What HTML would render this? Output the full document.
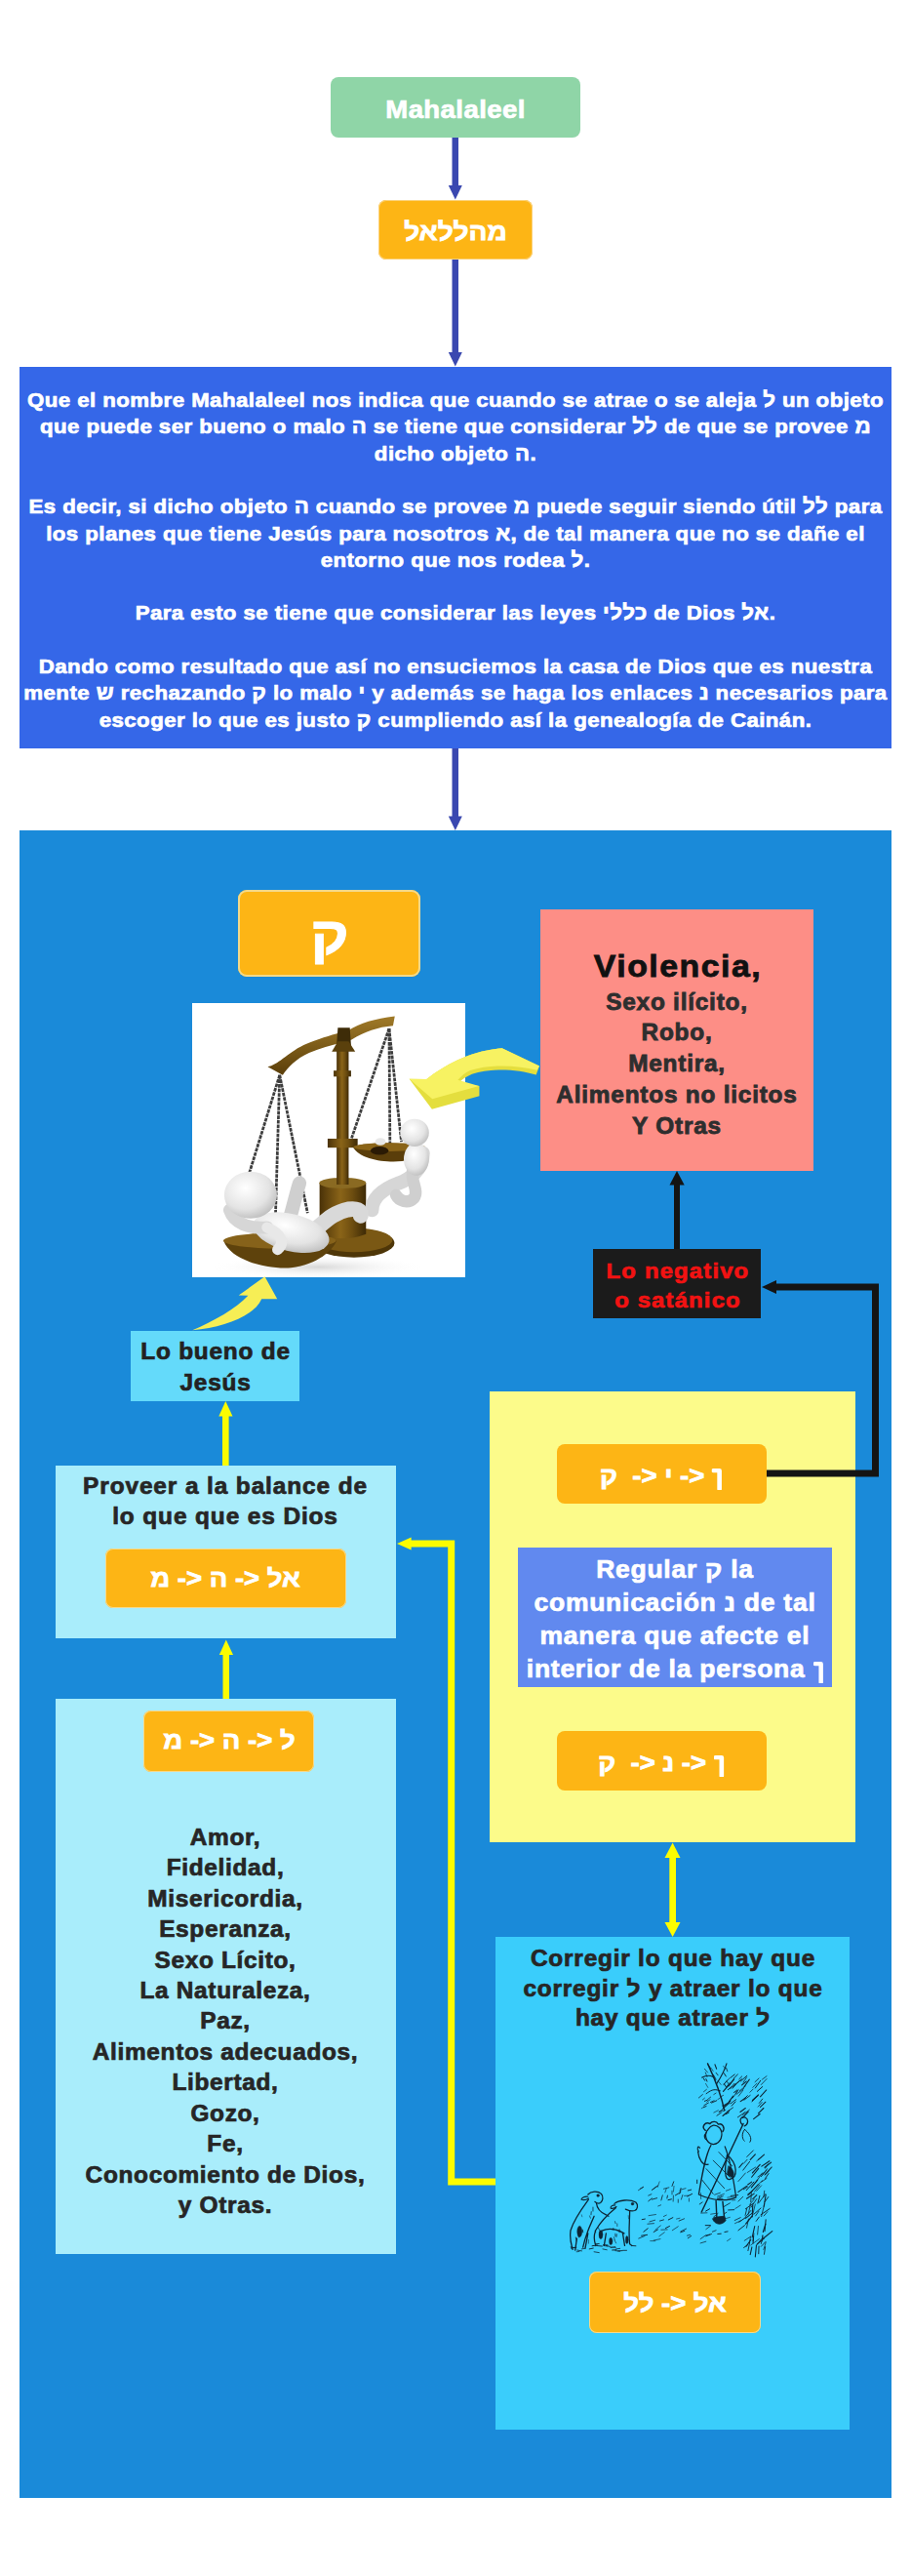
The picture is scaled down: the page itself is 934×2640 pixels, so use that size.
<!DOCTYPE html>
<html><head><meta charset="utf-8">
<style>
html,body{margin:0;padding:0;background:#ffffff;}
body{width:934px;height:2640px;position:relative;overflow:hidden;font-family:"Liberation Sans", sans-serif;}
div{white-space:nowrap;}
</style></head><body>
<div style="position:absolute;left:339px;top:79px;width:256px;height:62px;background:#8fd5a7;border-radius:8px;"></div><div style="position:absolute;left:-32.81px;top:97.39px;width:1000px;text-align:center;font-size:26px;line-height:30px;color:#ffffff;letter-spacing:0.379px;font-weight:bold;transform:scaleX(1.06);-webkit-text-stroke:0.7px #ffffff;">Mahalaleel</div><div style="position:absolute;left:388px;top:205px;width:158px;height:61px;background:#fdb515;border-radius:8px;box-shadow:inset 0 0 0 1px #fbd27a;"></div><div style="position:absolute;left:-33.50px;top:221.66px;width:1000px;text-align:center;font-size:25.5px;line-height:30px;color:#ffffff;letter-spacing:0px;font-weight:bold;transform:scaleX(1.1);-webkit-text-stroke:0.8px #ffffff;">מהללאל</div><div style="position:absolute;left:20px;top:376px;width:894px;height:391px;background:#3567e8;border-radius:0px;"></div><div style="position:absolute;left:-32.79px;top:396.07px;width:1000px;text-align:center;font-size:21px;line-height:27.3px;color:#ffffff;letter-spacing:0.411px;font-weight:bold;transform:scaleX(1.06);-webkit-text-stroke:0.7px #ffffff;">Que el nombre Mahalaleel nos indica que cuando se atrae o se aleja ל un objeto<br>que puede ser bueno o malo ה se tiene que considerar לל de que se provee מ<br>dicho objeto ה.<br>&nbsp;<br>Es decir, si dicho objeto ה cuando se provee מ puede seguir siendo útil לל para<br>los planes que tiene Jesús para nosotros א, de tal manera que no se dañe el<br>entorno que nos rodea ל.<br>&nbsp;<br>Para esto se tiene que considerar las leyes כללי de Dios אל.<br>&nbsp;<br>Dando como resultado que así no ensuciemos la casa de Dios que es nuestra<br>mente ש rechazando ק lo malo י y además se haga los enlaces נ necesarios para<br>escoger lo que es justo ק cumpliendo así la genealogía de Cainán.</div><div style="position:absolute;left:20px;top:851px;width:894px;height:1709px;background:#1a8ad9;border-radius:0px;"></div><div style="position:absolute;left:244px;top:912px;width:187px;height:89px;background:#fdb515;border-radius:9px;box-shadow:inset 0 0 0 2px #f3d98a;"></div><div style="position:absolute;left:-162.00px;top:929.44px;width:1000px;text-align:center;font-size:55px;line-height:60px;color:#ffffff;letter-spacing:0.0px;font-weight:bold;transform:scaleX(1.1);-webkit-text-stroke:0.8px #ffffff;">ק</div><div style="position:absolute;left:554px;top:932px;width:280px;height:268px;background:#fd8e86;border-radius:0px;"></div><div style="position:absolute;left:194.69px;top:972.31px;width:1000px;text-align:center;font-size:32px;line-height:36px;color:#111111;letter-spacing:1.376px;font-weight:bold;transform:scaleX(1.06);-webkit-text-stroke:0.8px #111111;">Violencia,</div><div style="position:absolute;left:194.37px;top:1011.56px;width:1000px;text-align:center;font-size:23px;line-height:31.75px;color:#2e2e2e;letter-spacing:0.738px;font-weight:bold;transform:scaleX(1.06);-webkit-text-stroke:0.8px #2e2e2e;">Sexo ilícito,<br>Robo,<br>Mentira,<br>Alimentos no licitos<br>Y Otras</div><div style="position:absolute;left:608px;top:1280px;width:172px;height:71px;background:#1b1b1b;border-radius:0px;"></div><div style="position:absolute;left:194.55px;top:1288.05px;width:1000px;text-align:center;font-size:22.5px;line-height:29.9px;color:#f21212;letter-spacing:1.108px;font-weight:bold;transform:scaleX(1.06);-webkit-text-stroke:0.7px #f21212;">Lo negativo<br>o satánico</div><div style="position:absolute;left:134px;top:1364px;width:173px;height:72px;background:#64dafa;border-radius:0px;"></div><div style="position:absolute;left:-278.63px;top:1370.33px;width:1000px;text-align:center;font-size:23px;line-height:31.4px;color:#222222;letter-spacing:0.745px;font-weight:bold;transform:scaleX(1.06);-webkit-text-stroke:0.7px #222222;">Lo bueno de<br>Jesús</div><div style="position:absolute;left:57px;top:1502px;width:349px;height:177px;background:#a9edfb;border-radius:0px;"></div><div style="position:absolute;left:-268.57px;top:1507.68px;width:1000px;text-align:center;font-size:23px;line-height:31.5px;color:#262626;letter-spacing:0.853px;font-weight:bold;transform:scaleX(1.06);-webkit-text-stroke:0.7px #262626;">Proveer a la balance de<br>lo que que es Dios</div><div style="position:absolute;left:108px;top:1587px;width:247px;height:61px;background:#fdb515;border-radius:8px;box-shadow:inset 0 0 0 1px #f6d98c;"></div><div style="position:absolute;left:-269.00px;top:1602.34px;width:1000px;text-align:center;font-size:25px;line-height:30px;color:#ffffff;letter-spacing:0px;font-weight:bold;transform:scaleX(1.1);-webkit-text-stroke:0.8px #ffffff;"><bdo dir="ltr">מ -&gt; ה -&gt; לא</bdo></div><div style="position:absolute;left:57px;top:1741px;width:349px;height:569px;background:#a9edfb;border-radius:0px;"></div><div style="position:absolute;left:147px;top:1753px;width:175px;height:63px;background:#fdb515;border-radius:8px;box-shadow:inset 0 0 0 1px #f6d98c;"></div><div style="position:absolute;left:-265.50px;top:1768.34px;width:1000px;text-align:center;font-size:25px;line-height:30px;color:#ffffff;letter-spacing:0px;font-weight:bold;transform:scaleX(1.1);-webkit-text-stroke:0.8px #ffffff;"><bdo dir="ltr">מ -&gt; ה -&gt; ל</bdo></div><div style="position:absolute;left:-268.67px;top:1867.59px;width:1000px;text-align:center;font-size:23px;line-height:31.48px;color:#262626;letter-spacing:0.653px;font-weight:bold;transform:scaleX(1.06);-webkit-text-stroke:0.7px #262626;">Amor,<br>Fidelidad,<br>Misericordia,<br>Esperanza,<br>Sexo Lícito,<br>La Naturaleza,<br>Paz,<br>Alimentos adecuados,<br>Libertad,<br>Gozo,<br>Fe,<br>Conocomiento de Dios,<br>y Otras.</div><div style="position:absolute;left:502px;top:1426px;width:375px;height:462px;background:#fcfb8a;border-radius:0px;"></div><div style="position:absolute;left:571px;top:1480px;width:215px;height:61px;background:#fdb515;border-radius:8px;"></div><div style="position:absolute;left:178.00px;top:1497.34px;width:1000px;text-align:center;font-size:25px;line-height:30px;color:#ffffff;letter-spacing:0px;font-weight:bold;transform:scaleX(1.1);-webkit-text-stroke:0.8px #ffffff;"><bdo dir="ltr">ק&nbsp; -&gt; י -&gt;&nbsp;<svg width="10" height="22" viewBox="0 0 10 22" style="vertical-align:-6px"><path d="M1.5,2.2 H7.2 V21" stroke="#fff" stroke-width="4.2" fill="none" stroke-linecap="round" stroke-linejoin="round"/></svg></bdo></div><div style="position:absolute;left:531px;top:1586px;width:322px;height:143px;background:#6189ef;border-radius:0px;"></div><div style="position:absolute;left:192.35px;top:1591.96px;width:1000px;text-align:center;font-size:25px;line-height:33.95px;color:#ffffff;letter-spacing:0.694px;font-weight:bold;transform:scaleX(1.06);-webkit-text-stroke:0.7px #ffffff;">Regular ק la<br>comunicación נ de tal<br>manera que afecte el<br>interior de la persona <svg width="10" height="22" viewBox="0 0 10 22" style="vertical-align:-6px"><path d="M1.5,2.2 H7.2 V21" stroke="#fff" stroke-width="4.2" fill="none" stroke-linecap="round" stroke-linejoin="round"/></svg></div><div style="position:absolute;left:571px;top:1774px;width:215px;height:61px;background:#fdb515;border-radius:8px;"></div><div style="position:absolute;left:178.00px;top:1791.34px;width:1000px;text-align:center;font-size:25px;line-height:30px;color:#ffffff;letter-spacing:0px;font-weight:bold;transform:scaleX(1.1);-webkit-text-stroke:0.8px #ffffff;"><bdo dir="ltr">ק&nbsp; -&gt; נ -&gt;&nbsp;<svg width="10" height="22" viewBox="0 0 10 22" style="vertical-align:-6px"><path d="M1.5,2.2 H7.2 V21" stroke="#fff" stroke-width="4.2" fill="none" stroke-linecap="round" stroke-linejoin="round"/></svg></bdo></div><div style="position:absolute;left:508px;top:1985px;width:363px;height:505px;background:#3acdfb;border-radius:0px;"></div><div style="position:absolute;left:190.38px;top:1992.08px;width:1000px;text-align:center;font-size:23px;line-height:30.7px;color:#262626;letter-spacing:0.756px;font-weight:bold;transform:scaleX(1.06);-webkit-text-stroke:0.7px #262626;">Corregir lo que hay que<br>corregir ל y atraer lo que<br>hay que atraer ל</div><div style="position:absolute;left:604px;top:2328px;width:176px;height:63px;background:#fdb515;border-radius:8px;box-shadow:inset 0 0 0 1px #f6d98c;"></div><div style="position:absolute;left:191.50px;top:2344.94px;width:1000px;text-align:center;font-size:25px;line-height:30px;color:#ffffff;letter-spacing:0px;font-weight:bold;transform:scaleX(1.1);-webkit-text-stroke:0.8px #ffffff;"><bdo dir="ltr">לל -&gt; לא</bdo></div>

<svg style="position:absolute;left:197px;top:1028px" width="280" height="281" viewBox="0 0 911 914" preserveAspectRatio="none">
<defs>
 <linearGradient id="brz" x1="0" x2="1" y1="0" y2="0">
  <stop offset="0" stop-color="#4a3208"/><stop offset="0.45" stop-color="#8a6418"/><stop offset="0.7" stop-color="#6e4e10"/><stop offset="1" stop-color="#3e2a06"/>
 </linearGradient>
 <linearGradient id="beam" x1="0" x2="0" y1="0" y2="1">
  <stop offset="0" stop-color="#a07a28"/><stop offset="1" stop-color="#5a3e0a"/>
 </linearGradient>
 <radialGradient id="wht" cx="0.4" cy="0.35" r="0.75">
  <stop offset="0" stop-color="#ffffff"/><stop offset="0.6" stop-color="#e4e4e4"/><stop offset="1" stop-color="#b4b4b4"/>
 </radialGradient>
 <radialGradient id="shd" cx="0.5" cy="0.5" r="0.5">
  <stop offset="0" stop-color="#d8d8d8"/><stop offset="1" stop-color="#ffffff" stop-opacity="0"/>
 </radialGradient>
</defs>
<rect x="0" y="0" width="911" height="914" fill="#ffffff"/>
<ellipse cx="420" cy="880" rx="360" ry="40" fill="url(#shd)"/>
<!-- base -->
<ellipse cx="540" cy="800" rx="135" ry="48" fill="#4e3608"/>
<ellipse cx="540" cy="790" rx="128" ry="40" fill="#7a5814"/>
<path d="M425,600 L580,600 L580,770 Q502,800 425,770 Z" fill="url(#brz)"/>
<ellipse cx="502" cy="600" rx="78" ry="18" fill="#8a6a22"/>
<!-- pillar -->
<rect x="482" y="120" width="40" height="485" fill="url(#brz)"/>
<rect x="452" y="452" width="100" height="30" fill="url(#brz)"/>
<rect x="472" y="225" width="58" height="20" fill="url(#brz)"/>
<!-- beam -->
<path d="M252,212 C285,208 315,168 372,140 C420,118 462,108 492,98 L520,92 C560,66 610,52 676,44 L670,76 C620,80 575,96 532,122 L498,132 C462,142 428,150 390,166 C345,186 320,215 302,240 Z" fill="url(#beam)"/>
<path d="M486,82 L526,82 L530,140 L482,140 Z" fill="#3e2c08"/>
<path d="M466,162 L544,162 L522,128 L486,128 Z" fill="#5a400c"/>
<!-- chains -->
<g stroke="#3e3e3e" stroke-width="9" stroke-dasharray="12 3" fill="none">
 <path d="M292,240 L188,575"/><path d="M292,240 L278,710"/><path d="M292,240 L385,700"/>
 <path d="M657,85 L532,450"/><path d="M657,85 L660,472"/><path d="M657,85 L698,462"/>
</g>
<!-- right pan -->
<path d="M535,478 C560,522 640,532 700,527 C750,517 775,502 782,486 C720,462 600,462 535,478 Z" fill="#5a3e0a"/>
<ellipse cx="658" cy="480" rx="120" ry="14" fill="#8a6418"/>
<ellipse cx="625" cy="492" rx="30" ry="14" fill="#2a1a04"/>
<ellipse cx="628" cy="462" rx="18" ry="12" fill="#e8e8e8"/>
<!-- right figure -->
<path d="M770,500 C770,560 720,590 690,600 C650,615 600,640 600,690" stroke="#d6d6d6" stroke-width="46" stroke-linecap="round" fill="none"/>
<path d="M740,540 C720,590 760,620 740,650 C720,670 690,660 680,640" stroke="#cfcfcf" stroke-width="40" stroke-linecap="round" fill="none"/>
<ellipse cx="748" cy="520" rx="42" ry="55" fill="url(#wht)"/>
<ellipse cx="742" cy="432" rx="48" ry="46" fill="url(#wht)"/>
<!-- left pan -->
<path d="M105,792 C130,862 260,888 330,882 C420,872 470,822 482,792 C400,768 200,768 105,792 Z" fill="#5e420c"/>
<ellipse cx="292" cy="792" rx="188" ry="26" fill="#86621a"/>
<!-- left figure -->
<path d="M390,770 C430,745 460,700 520,688 C548,684 566,690 562,708" stroke="#d9d9d9" stroke-width="52" stroke-linecap="round" fill="none"/>
<path d="M320,735 C335,690 345,640 358,600" stroke="#cfcfcf" stroke-width="46" stroke-linecap="round" fill="none"/>
<ellipse cx="330" cy="765" rx="130" ry="62" transform="rotate(14 330 765)" fill="url(#wht)"/>
<path d="M125,690 C140,735 190,752 250,748" stroke="#d6d6d6" stroke-width="42" stroke-linecap="round" fill="none"/>
<path d="M250,748 C300,770 310,800 285,822" stroke="#e8e8e8" stroke-width="36" stroke-linecap="round" fill="none"/>
<ellipse cx="195" cy="640" rx="88" ry="78" fill="url(#wht)"/>
<rect x="0" y="0" width="911" height="914" fill="none" stroke="#ffffff" stroke-width="6"/>
</svg><svg style="position:absolute;left:560px;top:2100px" width="260" height="240" viewBox="0 0 911 841"><g fill="none" stroke="#0d2535" stroke-linecap="round" stroke-linejoin="round"><path d="M640,220 C630,170 612,120 580,52" stroke-width="5"/><path d="M612,125 C628,100 640,80 648,52" stroke-width="4"/><path d="M600,100 C585,92 572,95 560,102" stroke-width="4"/><path d="M625,150 C600,140 590,150 575,160" stroke-width="3.5"/><path d="M697,112 l-11,10" stroke-width="3.4"/><path d="M703,98 l-10,10" stroke-width="3.2"/><path d="M660,103 l-21,22" stroke-width="2.7"/><path d="M682,181 l-20,15" stroke-width="3.1"/><path d="M792,97 l-16,12" stroke-width="2.7"/><path d="M667,135 l-14,11" stroke-width="3.5"/><path d="M743,144 l-11,11" stroke-width="2.6"/><path d="M680,189 l-14,15" stroke-width="3.5"/><path d="M716,133 l-21,17" stroke-width="2.9"/><path d="M733,166 l-22,17" stroke-width="3.0"/><path d="M792,107 l-20,21" stroke-width="2.7"/><path d="M721,96 l-22,19" stroke-width="3.5"/><path d="M777,135 l-19,17" stroke-width="3.5"/><path d="M716,212 l-19,14" stroke-width="3.6"/><path d="M659,192 l-25,22" stroke-width="3.9"/><path d="M691,146 l-11,10" stroke-width="3.3"/><path d="M674,107 l-17,23" stroke-width="2.7"/><path d="M686,147 l-12,9" stroke-width="3.2"/><path d="M730,218 l-24,19" stroke-width="2.9"/><path d="M710,142 l-26,20" stroke-width="2.7"/><path d="M676,124 l-15,18" stroke-width="3.5"/><path d="M688,91 l-15,15" stroke-width="3.4"/><path d="M788,190 l-19,18" stroke-width="3.6"/><path d="M658,220 l-24,20" stroke-width="3.8"/><path d="M707,148 l-16,21" stroke-width="2.6"/><path d="M660,120 l-13,16" stroke-width="2.5"/><path d="M650,112 l-13,17" stroke-width="2.5"/><path d="M777,179 l-12,15" stroke-width="3.1"/><path d="M703,108 l-26,21" stroke-width="3.3"/><path d="M720,102 l-12,17" stroke-width="2.9"/><path d="M770,113 l-19,27" stroke-width="3.4"/><path d="M671,169 l-14,20" stroke-width="4.2"/><path d="M775,191 l-14,16" stroke-width="2.7"/><path d="M762,167 l-16,13" stroke-width="2.8"/><path d="M768,233 l-23,18" stroke-width="3.9"/><path d="M757,123 l-15,15" stroke-width="2.5"/><path d="M654,131 l-18,21" stroke-width="4.1"/><path d="M715,226 l-27,19" stroke-width="3.1"/><path d="M682,123 l-11,14" stroke-width="3.5"/><path d="M781,212 l-19,19" stroke-width="3.8"/><path d="M662,186 l-23,18" stroke-width="3.8"/><path d="M719,116 l-16,13" stroke-width="3.9"/><path d="M791,147 l-22,24" stroke-width="3.7"/><path d="M675,108 l-20,25" stroke-width="3.9"/><path d="M671,210 l-22,16" stroke-width="3.1"/><path d="M730,109 l-19,27" stroke-width="3.6"/><path d="M726,225 l-21,22" stroke-width="3.9"/><path d="M681,127 l-12,14" stroke-width="3.5"/><path d="M688,151 l-19,25" stroke-width="3.1"/><path d="M716,175 l-18,13" stroke-width="4.1"/><path d="M723,167 l-10,10" stroke-width="3.2"/><path d="M677,91 l-14,11" stroke-width="3.3"/><path d="M755,171 l-16,18" stroke-width="3.4"/><path d="M764,105 l-14,13" stroke-width="2.9"/><path d="M762,164 l-21,20" stroke-width="4.0"/><path d="M600,99 l7,12" stroke-width="3.1"/><path d="M601,93 l9,16" stroke-width="3.1"/><path d="M639,125 l8,12" stroke-width="3.5"/><path d="M636,61 l8,10" stroke-width="2.2"/><path d="M582,56 l8,15" stroke-width="3.4"/><path d="M574,107 l4,9" stroke-width="3.4"/><path d="M647,68 l4,12" stroke-width="2.8"/><path d="M649,117 l8,10" stroke-width="2.9"/><path d="M591,66 l9,13" stroke-width="2.1"/><path d="M610,85 l7,9" stroke-width="3.0"/><path d="M606,55 l6,16" stroke-width="3.6"/><path d="M569,71 l11,13" stroke-width="2.5"/><path d="M572,84 l6,16" stroke-width="2.5"/><path d="M573,124 l8,14" stroke-width="2.2"/><path d="M565,105 l5,8" stroke-width="3.5"/><path d="M617,114 l11,14" stroke-width="2.2"/><path d="M638,86 l8,12" stroke-width="3.5"/><path d="M584,60 l5,9" stroke-width="2.3"/><path d="M576,145 l-10,8" stroke-width="2.6"/><path d="M636,166 l-10,6" stroke-width="2.6"/><path d="M562,163 l-14,12" stroke-width="2.9"/><path d="M579,183 l-10,4" stroke-width="3.3"/><path d="M603,185 l-13,6" stroke-width="2.9"/><path d="M629,228 l-16,11" stroke-width="3.2"/><path d="M624,176 l-8,5" stroke-width="2.3"/><path d="M567,207 l-9,6" stroke-width="2.2"/><path d="M644,218 l-11,6" stroke-width="2.5"/><path d="M589,181 l-12,9" stroke-width="2.5"/><path d="M656,228 l-11,6" stroke-width="3.5"/><path d="M591,172 l-11,9" stroke-width="2.8"/><path d="M610,158 l-8,5" stroke-width="2.5"/><path d="M569,176 l-7,6" stroke-width="2.6"/><path d="M583,193 l-16,9" stroke-width="3.1"/><path d="M632,219 l-11,7" stroke-width="3.6"/><path d="M575,205 l-9,4" stroke-width="3.4"/><path d="M649,196 l-17,8" stroke-width="2.3"/><path d="M612,185 l-18,8" stroke-width="3.3"/><path d="M618,220 l-16,8" stroke-width="2.4"/><path d="M582,288 C566,305 572,338 600,342 C628,340 640,305 622,282 C607,268 592,272 582,288 Z" stroke-width="4.5"/><path d="M572,292 C556,280 570,260 588,268 C596,258 612,258 618,270 C632,264 644,282 634,296" stroke-width="5"/><path d="M575,300 C565,310 568,322 576,326" stroke-width="4"/><path d="M592,345 C572,380 560,450 548,522 C598,545 650,548 682,532 C672,462 662,400 642,350" stroke-width="4.5"/><path d="M560,470 L600,520 M575,430 L640,500 M600,400 L660,460 M620,370 L668,420" stroke-width="3"/><path d="M545,368 C548,395 562,420 582,414" stroke-width="4.5"/><path d="M548,368 C540,355 545,345 552,355" stroke-width="4"/><path d="M650,380 C688,410 690,462 658,468 C640,470 640,430 650,380 Z" stroke-width="4.5"/><path d="M558,585 L708,268" stroke-width="5"/><path d="M705,272 C690,255 700,240 716,246 C728,252 726,272 712,276" stroke-width="4.5"/><path d="M712,288 C728,300 742,320 732,334 M712,290 C700,305 705,325 712,330" stroke-width="3.5"/><path d="M610,545 L613,612 M634,548 L640,608" stroke-width="5"/><path d="M598,610 C605,632 632,634 645,615 L640,600 L605,604 Z" fill="#0d2535" stroke-width="3"/><path d="M655,420 C672,430 680,450 668,462 L650,450 Z" fill="#0d2535" stroke-width="2"/><path d="M693,425 l13,-15" stroke-width="3.9"/><path d="M746,593 l25,-22" stroke-width="3.3"/><path d="M690,651 l23,-18" stroke-width="3.4"/><path d="M756,402 l18,-15" stroke-width="2.6"/><path d="M717,628 l21,-27" stroke-width="4.2"/><path d="M739,510 l23,-24" stroke-width="3.8"/><path d="M752,599 l12,-17" stroke-width="2.9"/><path d="M764,484 l13,-12" stroke-width="2.6"/><path d="M717,608 l25,-21" stroke-width="3.0"/><path d="M742,538 l14,-14" stroke-width="4.0"/><path d="M710,713 l14,-10" stroke-width="3.3"/><path d="M772,709 l16,-17" stroke-width="2.8"/><path d="M785,452 l15,-14" stroke-width="3.4"/><path d="M785,425 l23,-18" stroke-width="4.0"/><path d="M760,459 l23,-16" stroke-width="2.5"/><path d="M690,547 l17,-17" stroke-width="2.7"/><path d="M724,487 l14,-10" stroke-width="3.8"/><path d="M774,421 l28,-19" stroke-width="4.0"/><path d="M719,507 l27,-30" stroke-width="3.5"/><path d="M726,526 l12,-14" stroke-width="2.6"/><path d="M773,477 l19,-13" stroke-width="2.9"/><path d="M741,445 l27,-30" stroke-width="4.0"/><path d="M771,595 l32,-22" stroke-width="3.4"/><path d="M762,397 l21,-18" stroke-width="3.8"/><path d="M754,477 l22,-32" stroke-width="2.7"/><path d="M737,497 l22,-27" stroke-width="4.2"/><path d="M716,603 l19,-23" stroke-width="3.1"/><path d="M707,435 l24,-31" stroke-width="3.3"/><path d="M712,688 l23,-15" stroke-width="2.7"/><path d="M709,411 l13,-14" stroke-width="2.9"/><path d="M716,574 l28,-20" stroke-width="3.2"/><path d="M731,558 l17,-19" stroke-width="2.6"/><path d="M718,709 l17,-24" stroke-width="3.6"/><path d="M776,453 l15,-18" stroke-width="3.1"/><path d="M735,704 l30,-22" stroke-width="2.5"/><path d="M693,621 l23,-16" stroke-width="3.5"/><path d="M690,513 l30,-21" stroke-width="3.9"/><path d="M787,464 l12,-17" stroke-width="3.4"/><path d="M758,700 l25,-21" stroke-width="3.8"/><path d="M736,568 l20,-30" stroke-width="2.9"/><path d="M782,599 l13,-15" stroke-width="2.9"/><path d="M754,618 l11,-15" stroke-width="3.4"/><path d="M748,512 l19,-25" stroke-width="2.5"/><path d="M720,537 l27,-18" stroke-width="4.0"/><path d="M738,460 l25,-31" stroke-width="3.7"/><path d="M721,387 l23,-23" stroke-width="3.2"/><path d="M716,607 l18,-13" stroke-width="2.5"/><path d="M724,523 l17,-14" stroke-width="3.8"/><path d="M764,552 l24,-32" stroke-width="3.0"/><path d="M772,458 l22,-28" stroke-width="3.0"/><path d="M785,549 l13,-18" stroke-width="3.2"/><path d="M757,703 l16,-21" stroke-width="2.8"/><path d="M787,428 l10,-15" stroke-width="3.1"/><path d="M780,680 l32,-26" stroke-width="4.1"/><path d="M723,443 l29,-19" stroke-width="2.5"/><path d="M756,509 l17,-19" stroke-width="2.7"/><path d="M690,475 l26,-30" stroke-width="2.7"/><path d="M786,451 l24,-27" stroke-width="3.9"/><path d="M733,397 l18,-19" stroke-width="4.1"/><path d="M709,504 l15,-10" stroke-width="3.2"/><path d="M777,669 l-1,21" stroke-width="2.6"/><path d="M784,557 l-11,44" stroke-width="3.0"/><path d="M739,711 l-6,27" stroke-width="3.7"/><path d="M742,561 l-2,41" stroke-width="4.1"/><path d="M764,708 l-1,27" stroke-width="3.3"/><path d="M787,710 l-4,27" stroke-width="3.2"/><path d="M755,704 l-4,42" stroke-width="3.7"/><path d="M778,670 l-6,29" stroke-width="3.0"/><path d="M745,672 l-2,25" stroke-width="3.8"/><path d="M737,514 l-2,35" stroke-width="3.0"/><path d="M789,694 l-8,26" stroke-width="2.6"/><path d="M727,610 l-7,32" stroke-width="2.9"/><path d="M749,636 l-9,40" stroke-width="3.9"/><path d="M767,527 l-7,27" stroke-width="3.4"/><path d="M746,662 l-3,27" stroke-width="2.9"/><path d="M731,695 l-6,29" stroke-width="3.1"/><path d="M789,612 l-4,42" stroke-width="3.6"/><path d="M789,523 l-7,42" stroke-width="3.9"/><path d="M784,509 l-3,23" stroke-width="2.8"/><path d="M788,628 l-9,29" stroke-width="4.0"/><path d="M751,557 l-11,45" stroke-width="2.6"/><path d="M762,636 l-3,30" stroke-width="2.7"/><path d="M734,556 l-8,37" stroke-width="2.8"/><path d="M721,572 l-6,25" stroke-width="3.0"/><path d="M734,675 l-4,21" stroke-width="2.6"/><path d="M468,610 l12,-3" stroke-width="2.3"/><path d="M573,582 l14,-8" stroke-width="3.5"/><path d="M439,613 l16,-8" stroke-width="3.4"/><path d="M679,573 l19,-12" stroke-width="2.4"/><path d="M332,680 l22,-9" stroke-width="2.7"/><path d="M639,592 l9,-6" stroke-width="2.9"/><path d="M554,682 l17,-12" stroke-width="2.7"/><path d="M507,529 l17,-9" stroke-width="3.5"/><path d="M368,598 l26,-4" stroke-width="2.4"/><path d="M374,689 l18,-0" stroke-width="2.2"/><path d="M654,578 l21,-1" stroke-width="3.3"/><path d="M386,657 l15,-9" stroke-width="3.4"/><path d="M620,537 l15,-9" stroke-width="2.9"/><path d="M464,525 l19,-11" stroke-width="3.4"/><path d="M344,612 l11,-2" stroke-width="3.4"/><path d="M371,620 l20,-6" stroke-width="2.6"/><path d="M477,617 l19,-8" stroke-width="2.8"/><path d="M483,505 l18,-5" stroke-width="2.5"/><path d="M597,656 l13,-5" stroke-width="2.8"/><path d="M367,526 l11,-5" stroke-width="2.8"/><path d="M509,508 l12,-3" stroke-width="3.2"/><path d="M602,602 l15,-12" stroke-width="2.7"/><path d="M663,527 l26,-3" stroke-width="3.2"/><path d="M615,539 l19,-0" stroke-width="3.5"/><path d="M651,533 l25,-4" stroke-width="2.2"/><path d="M453,651 l21,-14" stroke-width="2.5"/><path d="M615,529 l24,-9" stroke-width="2.4"/><path d="M422,601 l10,-5" stroke-width="2.4"/><path d="M386,687 l24,-5" stroke-width="2.4"/><path d="M605,523 l20,-7" stroke-width="2.6"/><path d="M636,611 l24,-7" stroke-width="2.3"/><path d="M678,626 l21,-10" stroke-width="2.5"/><path d="M677,615 l21,-10" stroke-width="2.8"/><path d="M392,649 l19,-15" stroke-width="2.5"/><path d="M554,697 l20,-6" stroke-width="2.6"/><path d="M331,507 l17,-11" stroke-width="2.7"/><path d="M509,679 l12,-8" stroke-width="3.1"/><path d="M338,501 l11,-6" stroke-width="2.6"/><path d="M408,617 l14,-4" stroke-width="3.0"/><path d="M496,527 l15,-1" stroke-width="2.3"/><path d="M364,628 l23,-2" stroke-width="2.7"/><path d="M422,502 l19,-5" stroke-width="2.6"/><path d="M556,589 l22,-1" stroke-width="2.5"/><path d="M646,509 l16,-6" stroke-width="2.5"/><path d="M350,656 l15,-12" stroke-width="3.5"/><path d="M380,540 l18,-5" stroke-width="3.1"/><path d="M615,535 l14,-7" stroke-width="2.2"/><path d="M641,657 l11,-2" stroke-width="3.4"/><path d="M591,593 l18,-3" stroke-width="2.4"/><path d="M367,546 l13,-10" stroke-width="3.2"/><path d="M573,669 l15,-3" stroke-width="2.9"/><path d="M483,658 l14,-5" stroke-width="3.1"/><path d="M668,543 l11,-1" stroke-width="2.5"/><path d="M413,649 l22,-1" stroke-width="2.6"/><path d="M638,566 l22,-13" stroke-width="3.0"/><path d="M572,633 l18,-0" stroke-width="3.4"/><path d="M574,672 l20,-8" stroke-width="3.0"/><path d="M438,542 l12,-3" stroke-width="3.5"/><path d="M381,505 l21,-15" stroke-width="2.6"/><path d="M380,506 l17,-13" stroke-width="3.1"/><path d="M574,647 l16,-12" stroke-width="2.6"/><path d="M616,664 l12,-1" stroke-width="3.4"/><path d="M650,689 l12,-8" stroke-width="2.3"/><path d="M342,670 l21,-3" stroke-width="3.3"/><path d="M551,557 l10,-7" stroke-width="3.2"/><path d="M402,564 l10,-4" stroke-width="2.5"/><path d="M429,643 l14,-7" stroke-width="3.5"/><path d="M506,670 l11,-3" stroke-width="2.7"/><path d="M483,655 l20,-10" stroke-width="2.9"/><path d="M406,672 l19,-14" stroke-width="2.4"/><path d="M400,496 l7,-20" stroke-width="2.1"/><path d="M479,519 l4,-11" stroke-width="2.8"/><path d="M456,547 l1,-21" stroke-width="2.5"/><path d="M434,536 l2,-10" stroke-width="3.1"/><path d="M413,543 l5,-18" stroke-width="3.0"/><path d="M457,512 l2,-20" stroke-width="2.2"/><path d="M542,482 l0,-12" stroke-width="3.5"/><path d="M480,510 l4,-11" stroke-width="2.8"/><path d="M485,540 l5,-16" stroke-width="2.6"/><path d="M452,492 l6,-16" stroke-width="3.2"/><path d="M427,515 l5,-15" stroke-width="2.3"/><path d="M474,551 l0,-11" stroke-width="2.6"/><path d="M513,547 l-0,-11" stroke-width="2.5"/><path d="M452,522 l-0,-13" stroke-width="2.4"/><path d="M556,538 l-1,-21" stroke-width="2.3"/><path d="M150,522 C160,510 185,508 198,520 C206,530 204,545 195,552 C188,556 180,552 175,548" stroke-width="4.5"/><path d="M150,530 C138,528 128,534 126,540 C135,544 146,540 152,536" stroke-width="4"/><path d="M152,540 C130,570 100,610 88,650 C82,680 90,700 95,720" stroke-width="4.5"/><path d="M180,552 C182,570 190,585 215,595 L224,600" stroke-width="4.5"/><path d="M172,600 C160,630 142,662 132,712 M110,680 L104,722 M150,662 L140,716" stroke-width="4.5"/><path d="M245,555 C260,542 300,538 322,550 C332,560 328,575 318,580 C305,585 292,578 285,575" stroke-width="4.5"/><path d="M248,560 C236,560 230,566 232,572 C240,574 248,570 252,566" stroke-width="4"/><path d="M250,570 C225,590 195,620 178,650 C170,670 172,690 178,706" stroke-width="4.5"/><path d="M300,582 C300,620 295,660 300,700 L308,706" stroke-width="4.5"/><path d="M200,652 C230,640 260,650 280,662 M215,662 L208,706 M275,662 L282,706" stroke-width="4.5"/><ellipse cx="120" cy="655" rx="9" ry="20" fill="#0d2535"/><ellipse cx="196" cy="666" rx="7" ry="16" fill="#0d2535"/><ellipse cx="232" cy="690" rx="6" ry="13" fill="#0d2535"/><ellipse cx="290" cy="685" rx="5" ry="14" fill="#0d2535"/><ellipse cx="186" cy="526" rx="5" ry="5" fill="#0d2535"/><ellipse cx="310" cy="556" rx="5" ry="5" fill="#0d2535"/><path d="M172,728 l18,3" stroke-width="2.8"/><path d="M127,718 l11,-2" stroke-width="2.7"/><path d="M88,711 l18,3" stroke-width="2.9"/><path d="M232,713 l16,-3" stroke-width="2.7"/><path d="M258,725 l16,-1" stroke-width="3.2"/><path d="M181,706 l20,2" stroke-width="3.3"/><path d="M248,724 l17,2" stroke-width="2.8"/><path d="M155,718 l14,-3" stroke-width="3.3"/><path d="M251,718 l14,-2" stroke-width="2.8"/><path d="M229,711 l21,2" stroke-width="2.4"/><path d="M237,722 l15,-1" stroke-width="3.6"/><path d="M89,715 l19,-3" stroke-width="3.5"/><path d="M205,703 l16,1" stroke-width="3.2"/><path d="M203,718 l15,3" stroke-width="2.7"/><path d="M308,706 l14,1" stroke-width="3.2"/><path d="M109,728 l10,-1" stroke-width="2.5"/><path d="M176,700 l14,-1" stroke-width="3.1"/><path d="M165,707 l18,-3" stroke-width="3.5"/><path d="M206,706 l14,2" stroke-width="2.4"/><path d="M111,722 l17,3" stroke-width="2.8"/><path d="M215,706 l13,3" stroke-width="3.1"/><path d="M276,723 l13,-0" stroke-width="2.9"/><path d="M106,677 l3,13" stroke-width="2.1"/><path d="M127,595 l2,7" stroke-width="1.8"/><path d="M156,599 l3,8" stroke-width="2.3"/><path d="M131,649 l1,9" stroke-width="2.9"/><path d="M168,568 l-0,14" stroke-width="2.7"/><path d="M107,676 l1,6" stroke-width="1.8"/><path d="M176,652 l2,6" stroke-width="1.9"/><path d="M115,669 l2,7" stroke-width="2.9"/><path d="M162,584 l-1,11" stroke-width="2.7"/><path d="M152,685 l-0,13" stroke-width="2.0"/><path d="M263,648 l0,10" stroke-width="2.9"/><path d="M247,619 l2,7" stroke-width="2.4"/><path d="M187,641 l4,9" stroke-width="2.4"/><path d="M245,685 l6,12" stroke-width="2.3"/><path d="M248,663 l-0,9" stroke-width="2.3"/><path d="M295,598 l1,11" stroke-width="1.8"/><path d="M253,665 l-1,9" stroke-width="3.0"/><path d="M241,643 l-0,6" stroke-width="2.6"/><path d="M255,627 l-0,9" stroke-width="2.3"/><path d="M243,675 l3,9" stroke-width="2.3"/></g></svg>
<svg style="position:absolute;left:400px;top:1050px" width="170" height="110" viewBox="0 0 911 589">
<path d="M615,130 L820,228 L802,276 C700,246 560,236 450,272 C420,285 395,300 375,322 L490,338 L490,392 L230,464 L105,298 L200,300 C300,220 450,140 615,130 Z" fill="#e4de3e"/>
<path d="M615,130 L820,228 L806,250 C700,224 560,214 440,252 C410,264 392,284 372,304 L488,338 L232,408 L105,298 L200,300 C300,220 450,140 615,130 Z" fill="#f7f262"/>
</svg>
<svg style="position:absolute;left:120px;top:1300px" width="200" height="220" viewBox="0 0 911 1002">
<path d="M352,288 C500,276 640,222 675,142 L748,142 L690,38 L568,125 L612,126 C555,188 450,246 352,288 Z" fill="#f6ee55"/>
</svg><svg style="position:absolute;left:0;top:0" width="934" height="2640" viewBox="0 0 934 2640"><rect x="463.5" y="141" width="6.5" height="50" fill="#3a48b0"/><polygon points="459.8,190 473.8,190 466.8,204.5" fill="#3a48b0"/><rect x="463.5" y="266" width="6.5" height="96" fill="#3a48b0"/><polygon points="459.8,361 473.8,361 466.8,375.5" fill="#3a48b0"/><rect x="463.5" y="767" width="6.5" height="71" fill="#3a48b0"/><polygon points="459.8,836.6 473.8,836.6 466.8,851" fill="#3a48b0"/><rect x="691" y="1213" width="6" height="67" fill="#141414"/><polygon points="686.5,1214.6 701.7,1214.6 694,1200" fill="#141414"/><polyline points="786,1510 897.5,1510 897.5,1319 794,1319" fill="none" stroke="#141414" stroke-width="7" stroke-linejoin="miter"/><polygon points="781,1319 796,1312 796,1326" fill="#141414"/><rect x="228" y="1450" width="6.599999999999994" height="52" fill="#fcfc00"/><polygon points="224.3,1451.5 238.5,1451.5 231.3,1436" fill="#fcfc00"/><rect x="228.5" y="1695" width="6.5" height="46" fill="#fcfc00"/><polygon points="224.8,1696 239,1696 231.8,1680.5" fill="#fcfc00"/><rect x="686.3" y="1902" width="6.7000000000000455" height="70" fill="#fcfc00"/><polygon points="681.5,1904 697.5,1904 689.6,1888.5" fill="#fcfc00"/><polygon points="681.5,1970 697.5,1970 689.6,1985" fill="#fcfc00"/><polyline points="508,2236 462.7,2236 462.7,1582 420,1582" fill="none" stroke="#fcfc00" stroke-width="7" stroke-linejoin="miter"/><polygon points="407,1582 421.6,1575.5 421.6,1588.5" fill="#fcfc00"/></svg>
</body></html>
